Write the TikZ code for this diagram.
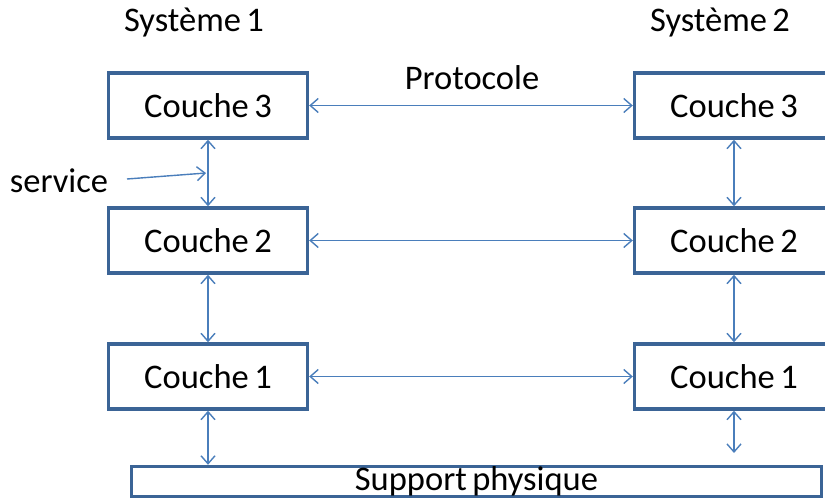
\documentclass[tikz,border=0pt]{standalone}
\usepackage{fontspec}
\setmainfont{Carlito}[WordSpace=0.7]
\usetikzlibrary{arrows.meta}
\definecolor{boxblue}{HTML}{3B6496}
\definecolor{arrblue}{HTML}{4A7EBB}
\tikzset{
  layer/.style={draw=boxblue, line width=3.4pt, fill=white, minimum width=199pt, minimum height=65pt, inner sep=0pt, font=\fontsize{34.5}{40}\selectfont},
  lbl/.style={inner sep=0pt, font=\fontsize{34.5}{40}\selectfont},
  link/.style={draw=arrblue, line width=1.4pt, {Straight Barb[length=8pt,width=14pt]}-{Straight Barb[length=8pt,width=14pt]}},
  onelink/.style={draw=arrblue, line width=1.4pt, -{Straight Barb[length=8pt,width=14pt]}}
}
\begin{document}
\begin{tikzpicture}[x=1pt,y=-1pt]
\useasboundingbox (0,0) rectangle (825,501);
\node[lbl] (s1) at (194,22) {Système 1};
\node[lbl] (s2) at (720,22) {Système 2};
\node[lbl] (proto) at (472,78) {Protocole};
\node[lbl] (serv) at (59,181) {service};

\node[layer] (L3) at (208,105.5) {Couche 3};
\node[layer] (L2) at (208,240.5) {Couche 2};
\node[layer] (L1) at (208,376.5) {Couche 1};
\node[layer] (R3) at (734,105.5) {Couche 3};
\node[layer] (R2) at (734,240.5) {Couche 2};
\node[layer] (R1) at (734,376.5) {Couche 1};
\node[layer, minimum width=690pt, minimum height=30pt] (sup) at (476.5,481.5) {Support physique};

\draw[link] (L3.east) -- (R3.west);
\draw[link] (L2.east) -- (R2.west);
\draw[link] (L1.east) -- (R1.west);
\draw[link] (L3.south) -- (L2.north);
\draw[link] (L2.south) -- (L1.north);
\draw[link] (R3.south) -- (R2.north);
\draw[link] (R2.south) -- (R1.north);
\draw[link] (L1.south) -- (L1.south |- sup.north);
\coordinate (rend) at (734,453);
\draw[link] (R1.south) -- (rend);
\coordinate (sstart) at (127,179);
\coordinate (send) at (206,173);
\draw[onelink] (sstart) -- (send);
\end{tikzpicture}
\end{document}
